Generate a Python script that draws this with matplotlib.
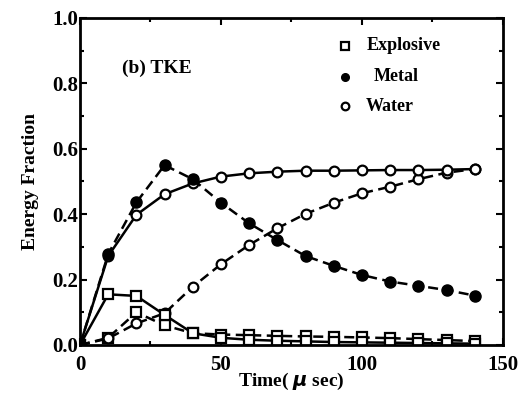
import matplotlib
matplotlib.use("Agg")
import matplotlib.pyplot as plt
from matplotlib.ticker import MultipleLocator

plt.rcParams['font.family'] = ['Liberation Serif', 'DejaVu Serif']
plt.rcParams['font.weight'] = 'bold'

t = [0, 10, 20, 30, 40, 50, 60, 70, 80, 90, 100, 110, 120, 130, 140]

# solid case
explosive_a = [0, 0.155, 0.150, 0.092, 0.036, 0.022, 0.016, 0.013, 0.011, 0.009, 0.008, 0.007, 0.006, 0.005, 0.004]
water_a = [0, 0.272, 0.398, 0.461, 0.494, 0.515, 0.525, 0.530, 0.533, 0.533, 0.534, 0.535, 0.535, 0.536, 0.538]

# dashed case
explosive_b = [0, 0.022, 0.100, 0.060, 0.036, 0.032, 0.030, 0.028, 0.026, 0.025, 0.023, 0.021, 0.018, 0.015, 0.012]
metal_b = [0, 0.278, 0.436, 0.550, 0.507, 0.435, 0.372, 0.321, 0.272, 0.242, 0.214, 0.194, 0.181, 0.168, 0.151]
water_b = [0, 0.020, 0.066, 0.097, 0.178, 0.247, 0.306, 0.357, 0.401, 0.435, 0.464, 0.484, 0.507, 0.527, 0.538]

fig = plt.figure(figsize=(5.18, 3.98), dpi=100)
ax = fig.add_axes([0.1544, 0.1332, 0.8166, 0.8216])

ms = 7
dash = (0, (4, 2.2))
sq = dict(marker='s', mfc='white', mec='black', mew=1.6, ms=ms, color='black')
oc = dict(marker='o', mfc='white', mec='black', mew=1.6, ms=ms, color='black')
fc = dict(marker='o', mfc='black', mec='black', ms=ms + 1, color='black')

ax.plot(t, explosive_b, ls=dash, lw=1.8, **sq)
ax.plot(t, water_b, ls=dash, lw=1.8, **oc)
ax.plot(t, explosive_a, ls='-', lw=1.8, **sq)
ax.plot(t, water_a, ls='-', lw=1.8, **oc)
ax.plot(t, metal_b, ls=dash, lw=1.8, **fc)

ax.set_xlim(0, 150)
ax.set_ylim(0, 1.0)
ax.xaxis.set_major_locator(MultipleLocator(50))
ax.xaxis.set_minor_locator(MultipleLocator(25))
ax.yaxis.set_major_locator(MultipleLocator(0.2))
ax.yaxis.set_minor_locator(MultipleLocator(0.1))
ax.yaxis.set_major_formatter(lambda v, p: f"{v:.1f}")
ax.tick_params(which='both', direction='in', top=True, right=True, width=1.5)
ax.tick_params(which='major', length=5, labelsize=15)
ax.tick_params(axis='y', which='major', pad=1)
ax.tick_params(axis='x', which='major', pad=7)
ax.tick_params(which='minor', length=3)
for s in ax.spines.values():
    s.set_linewidth(2)

ax.set_xlabel('Time( $\\mu$ sec)', fontsize=14, fontweight='bold', labelpad=-3)
ax.set_ylabel('Energy Fraction', fontsize=14, fontweight='bold', labelpad=10)

ax.text(15, 0.845, '(b) TKE', fontsize=14, fontweight='bold', va='center')

# legend markers and names
leg = [('Explosive', sq, 0.915), ('Metal', fc, 0.82), ('Water', oc, 0.73)]
for name, style, yy in leg:
    kw = dict(style)
    kw['ms'] = 5.5
    ax.plot([94], [yy], ls='none', clip_on=False, **kw)
    ax.text(101.5 if name != 'Metal' else 104, yy, name, fontsize=13, fontweight='bold', va='center')

fig.savefig('out.png', dpi=100)
